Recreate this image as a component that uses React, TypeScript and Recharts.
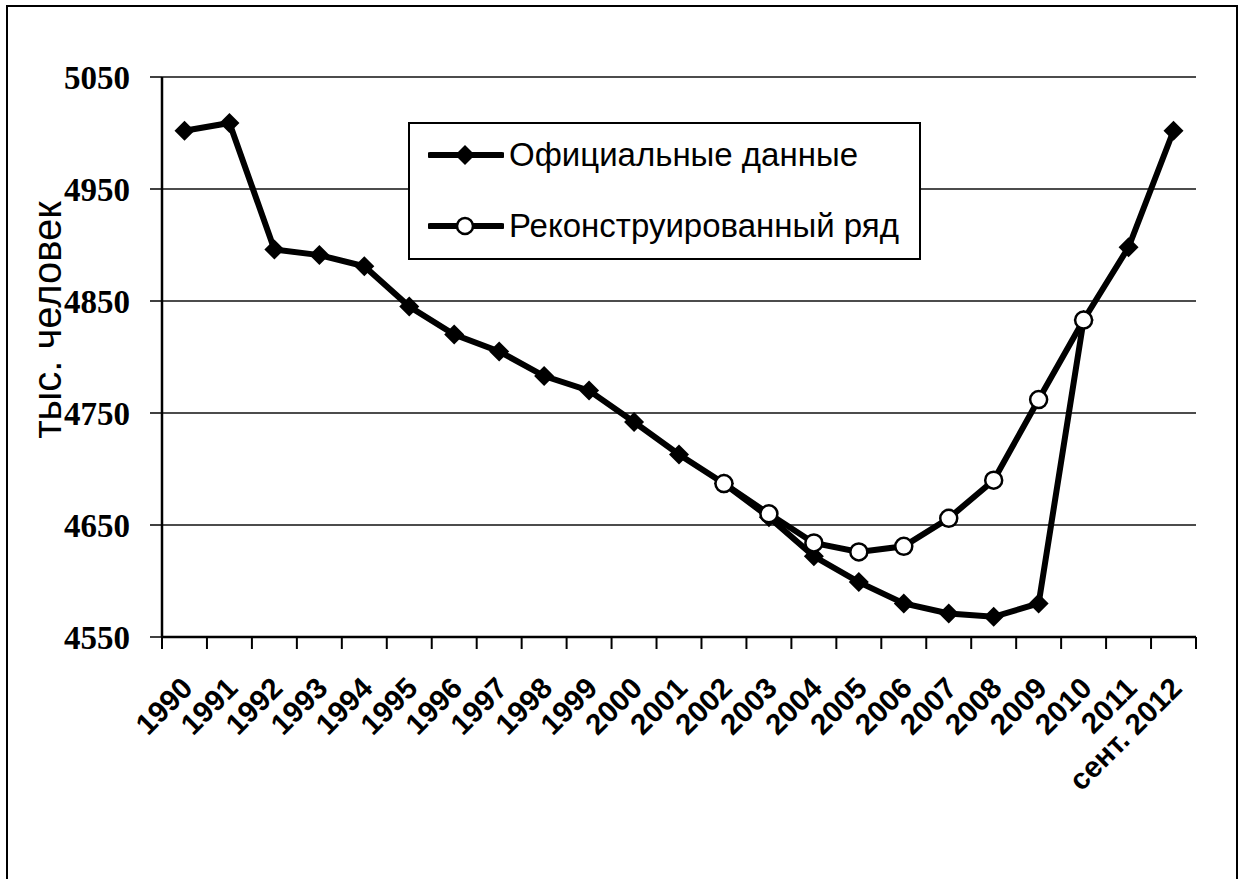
import { LineChart, Line, XAxis, YAxis, CartesianGrid, Legend } from "recharts";

// categories along the x axis
const YEARS = [
  "1990", "1991", "1992", "1993", "1994", "1995", "1996", "1997", "1998", "1999",
  "2000", "2001", "2002", "2003", "2004", "2005", "2006", "2007", "2008", "2009",
  "2010", "2011", "сент. 2012",
];

// тыс. человек
const OFFICIAL = [
  5002, 5009, 4896, 4891, 4881, 4845, 4820, 4805, 4783, 4770,
  4742, 4713, 4687, 4657, 4622, 4599, 4580, 4571, 4568, 4580,
  4833, 4898, 5002,
];

const RECONSTRUCTED = [
  null, null, null, null, null, null, null, null, null, null,
  null, null, 4687, 4660, 4634, 4626, 4631, 4656, 4690, 4762,
  4833, null, null,
];

const Y_TICKS = [4550, 4650, 4750, 4850, 4950, 5050];

const OFFICIAL_NAME = "Официальные данные";
const RECON_NAME = "Реконструированный ряд";

const SANS = "'Liberation Sans', Arial, sans-serif";
const SERIF = "'Liberation Serif', 'Times New Roman', serif";

const W = 1243;
const H = 879;
const PLOT_LEFT = 162;
const PLOT_RIGHT = 1196;
const HALF_BAND = (PLOT_RIGHT - PLOT_LEFT) / YEARS.length / 2;

const data = YEARS.map((year, i) => ({
  i,
  year,
  official: OFFICIAL[i],
  recon: RECONSTRUCTED[i],
}));

const Diamond = (props: any) => {
  const { cx, cy, index } = props;
  if (cx == null || cy == null) return <g key={`d-${index}`} />;
  const s = 10;
  return (
    <polygon
      key={`d-${index}`}
      points={`${cx},${cy - s} ${cx + s},${cy} ${cx},${cy + s} ${cx - s},${cy}`}
      fill="#000"
    />
  );
};

// tick marks sit between the years, labels under each year
const XTick = (props: any) => {
  const { x, y, payload } = props;
  const i = payload.value as number;
  const tx = x + 10;
  const ty = y + 53;
  return (
    <g>
      <line x1={x - HALF_BAND} x2={x - HALF_BAND} y1={y} y2={y + 12} stroke="#000" strokeWidth={2} />
      {i === YEARS.length - 1 && (
        <line x1={x + HALF_BAND} x2={x + HALF_BAND} y1={y} y2={y + 12} stroke="#000" strokeWidth={2} />
      )}
      <text
        x={tx}
        y={ty}
        transform={`rotate(-45 ${tx} ${ty})`}
        textAnchor="end"
        fill="#000"
        style={{ fontFamily: SANS, fontWeight: 700, fontSize: 29.5 }}
      >
        {YEARS[i]}
      </text>
    </g>
  );
};

const YLabel = (props: any) => {
  const vb = props.viewBox || { x: 62, y: 77, width: 100, height: 560 };
  const x = vb.x - 1;
  const y = vb.y + 243;
  return (
    <text
      x={x}
      y={y}
      transform={`rotate(-90 ${x} ${y})`}
      textAnchor="middle"
      fill="#000"
      style={{ fontFamily: SANS, fontSize: 40 }}
    >
      тыс. человек
    </text>
  );
};

const LegendBox = () => {
  const rows = [
    { name: OFFICIAL_NAME, marker: "diamond", cy: 33 },
    { name: RECON_NAME, marker: "circle", cy: 104 },
  ];
  return (
    <div
      style={{
        position: "relative",
        width: 513,
        height: 138,
        border: "2px solid #000",
        background: "#fff",
        boxSizing: "border-box",
      }}
    >
      {rows.map((r) => (
        <div
          key={r.name}
          style={{
            position: "absolute",
            left: 18,
            top: r.cy - 22,
            height: 40,
            display: "flex",
            alignItems: "center",
            whiteSpace: "nowrap",
          }}
        >
          <svg width={76} height={24} style={{ display: "block" }}>
            <line x1={2} x2={74} y1={12} y2={12} stroke="#000" strokeWidth={6} strokeLinecap="round" />
            {r.marker === "diamond" ? (
              <polygon points="37,2 47,12 37,22 27,12" fill="#000" />
            ) : (
              <circle cx={37} cy={12} r={8} fill="#fff" stroke="#000" strokeWidth={2.5} />
            )}
          </svg>
          <span style={{ fontFamily: SANS, fontSize: 33, color: "#000", marginLeft: 5 }}>{r.name}</span>
        </div>
      ))}
    </div>
  );
};

export default function App() {
  return (
    <div style={{ position: "absolute", left: 0, top: 0, width: W, height: H, background: "#fff" }}>
      <div
        style={{
          position: "absolute",
          left: 6,
          top: 5,
          width: 1232,
          height: H - 5,
          borderTop: "2px solid #000",
          borderLeft: "2px solid #000",
          borderRight: "2px solid #000",
          boxSizing: "border-box",
        }}
      />
      <div style={{ position: "absolute", left: 0, top: 0 }}>
        <LineChart
          width={W}
          height={H}
          data={data}
          margin={{ top: 77, right: W - PLOT_RIGHT, bottom: 142, left: 62 }}
        >
          <CartesianGrid horizontal vertical={false} stroke="#111" strokeWidth={1.5} />
          <XAxis
            xAxisId="top"
            orientation="top"
            type="number"
            dataKey="i"
            domain={[-0.5, YEARS.length - 0.5]}
            height={0}
            tick={false}
            tickLine={false}
            axisLine={{ stroke: "#8c8c8c", strokeWidth: 2.5 }}
          />
          <XAxis
            type="number"
            dataKey="i"
            domain={[-0.5, YEARS.length - 0.5]}
            ticks={YEARS.map((_, i) => i)}
            interval={0}
            height={100}
            tickSize={0}
            tickMargin={0}
            tickLine={false}
            tick={<XTick />}
            axisLine={{ stroke: "#000", strokeWidth: 2.5 }}
          />
          <YAxis
            domain={[4550, 5050]}
            ticks={Y_TICKS}
            interval={0}
            width={100}
            tickSize={12}
            tickMargin={20}
            tickLine={{ stroke: "#000", strokeWidth: 1.5 }}
            axisLine={{ stroke: "#000", strokeWidth: 2.5 }}
            tick={{ fill: "#000", fontFamily: SERIF, fontWeight: 700, fontSize: 33 }}
            label={<YLabel />}
          />
          <YAxis
            yAxisId="right"
            orientation="right"
            domain={[4550, 5050]}
            width={0}
            tick={false}
            tickLine={false}
            axisLine={{ stroke: "#8c8c8c", strokeWidth: 2.5 }}
          />
          <Legend
            layout="horizontal"
            verticalAlign="middle"
            align="center"
            content={<LegendBox />}
            wrapperStyle={{ left: 408, top: 122, width: 513, height: 138 }}
          />
          <Line
            name={OFFICIAL_NAME}
            dataKey="official"
            type="linear"
            stroke="#000"
            strokeWidth={6}
            dot={Diamond}
            activeDot={false}
            isAnimationActive={false}
          />
          <Line
            name={RECON_NAME}
            dataKey="recon"
            type="linear"
            stroke="#000"
            strokeWidth={6}
            dot={{ r: 8.5, fill: "#fff", stroke: "#000", strokeWidth: 2.5 }}
            activeDot={false}
            isAnimationActive={false}
          />
        </LineChart>
      </div>
    </div>
  );
}
